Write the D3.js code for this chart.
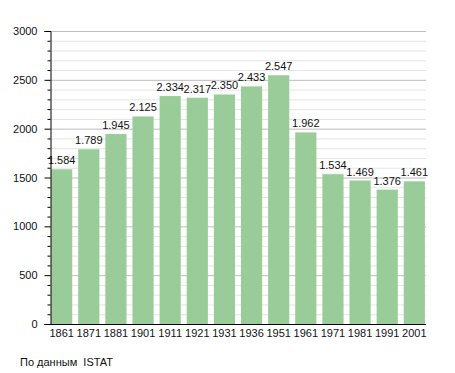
<!DOCTYPE html>
<html><head><meta charset="utf-8">
<script src="https://cdn.jsdelivr.net/npm/d3@7"></script>
<style>body{margin:0;background:#fff}svg{display:block}text{font-family:"Liberation Sans",Arial,sans-serif}</style>
</head><body>
<script>
const years = ["1861","1871","1881","1901","1911","1921","1931","1936","1951","1961","1971","1981","1991","2001"];
const population = [1584,1789,1945,2125,2334,2317,2350,2433,2547,1962,1534,1469,1376,1461];
const valueLabels = ["1.584","1.789","1.945","2.125","2.334","2.317","2.350","2.433","2.547","1.962","1.534","1.469","1.376","1.461"];
const yTicks = [0,500,1000,1500,2000,2500,3000];
const source = "По данным  ISTAT";

const W = 455, H = 373;
const m = {left:50, right:29, top:31, bottom:49};
const svg = d3.select("body").append("svg").attr("width",W).attr("height",H);
const x = d3.scaleBand().domain(years).range([m.left, W-m.right]).paddingInner(0.22).paddingOuter(0.04);
const y = d3.scaleLinear().domain([0,3000]).range([H-m.bottom, m.top]);

// grid
const minor = d3.range(100,3001,100).filter(v=>v%500!==0);
svg.append("g").selectAll("line").data(minor).join("line")
  .attr("x1",m.left).attr("x2",W-m.right).attr("y1",d=>y(d)+0.5).attr("y2",d=>y(d)+0.5)
  .attr("stroke","#e4e4e4").attr("stroke-width",1);
svg.append("g").selectAll("line").data(yTicks.filter(v=>v>0)).join("line")
  .attr("x1",m.left).attr("x2",W-m.right).attr("y1",d=>y(d)+0.5).attr("y2",d=>y(d)+0.5)
  .attr("stroke","#bdbdbd").attr("stroke-width",1);

// bars
svg.append("g").selectAll("rect").data(years).join("rect")
  .attr("x",d=>x(d)).attr("width",x.bandwidth())
  .attr("y",(d,i)=>y(population[i])).attr("height",(d,i)=>y(0)-y(population[i]))
  .attr("fill","#99cc99");

// value labels
svg.append("g").selectAll("text").data(years).join("text")
  .attr("x",d=>x(d)+x.bandwidth()/2).attr("y",(d,i)=>y(population[i])-5)
  .attr("text-anchor","middle").attr("font-size",11).attr("fill","#111")
  .text((d,i)=>valueLabels[i]);

// y axis
const yAxis = d3.axisLeft(y).tickValues(yTicks).tickSize(6).tickFormat(d3.format("d"));
const gy = svg.append("g").attr("transform",`translate(${m.left+0.5},0)`).call(yAxis);
gy.selectAll("text").attr("font-size",11).attr("fill","#111").attr("x",-13).style("font-family","'Liberation Sans',Arial,sans-serif");
gy.select(".domain").attr("stroke","#000");
gy.selectAll(".tick line").attr("stroke","#000");
const gm = svg.append("g").attr("transform",`translate(${m.left+0.5},0)`);
gm.selectAll("line").data(minor).join("line")
  .attr("x1",-3).attr("x2",0).attr("y1",d=>y(d)+0.5).attr("y2",d=>y(d)+0.5).attr("stroke","#000");

// x axis
const xAxis = d3.axisBottom(x).tickSize(0).tickPadding(5);
const gx = svg.append("g").attr("transform",`translate(0,${y(0)+0.5})`).call(xAxis);
gx.select(".domain").attr("stroke","#000").attr("d",`M${m.left},0H${W-m.right}`);
gx.selectAll("text").attr("font-size",11).attr("fill","#111").style("font-family","'Liberation Sans',Arial,sans-serif");

svg.append("text").attr("x",20).attr("y",366).attr("font-size",11).attr("fill","#111")
  .style("white-space","pre").attr("xml:space","preserve").text(source);
</script>
</body></html>
